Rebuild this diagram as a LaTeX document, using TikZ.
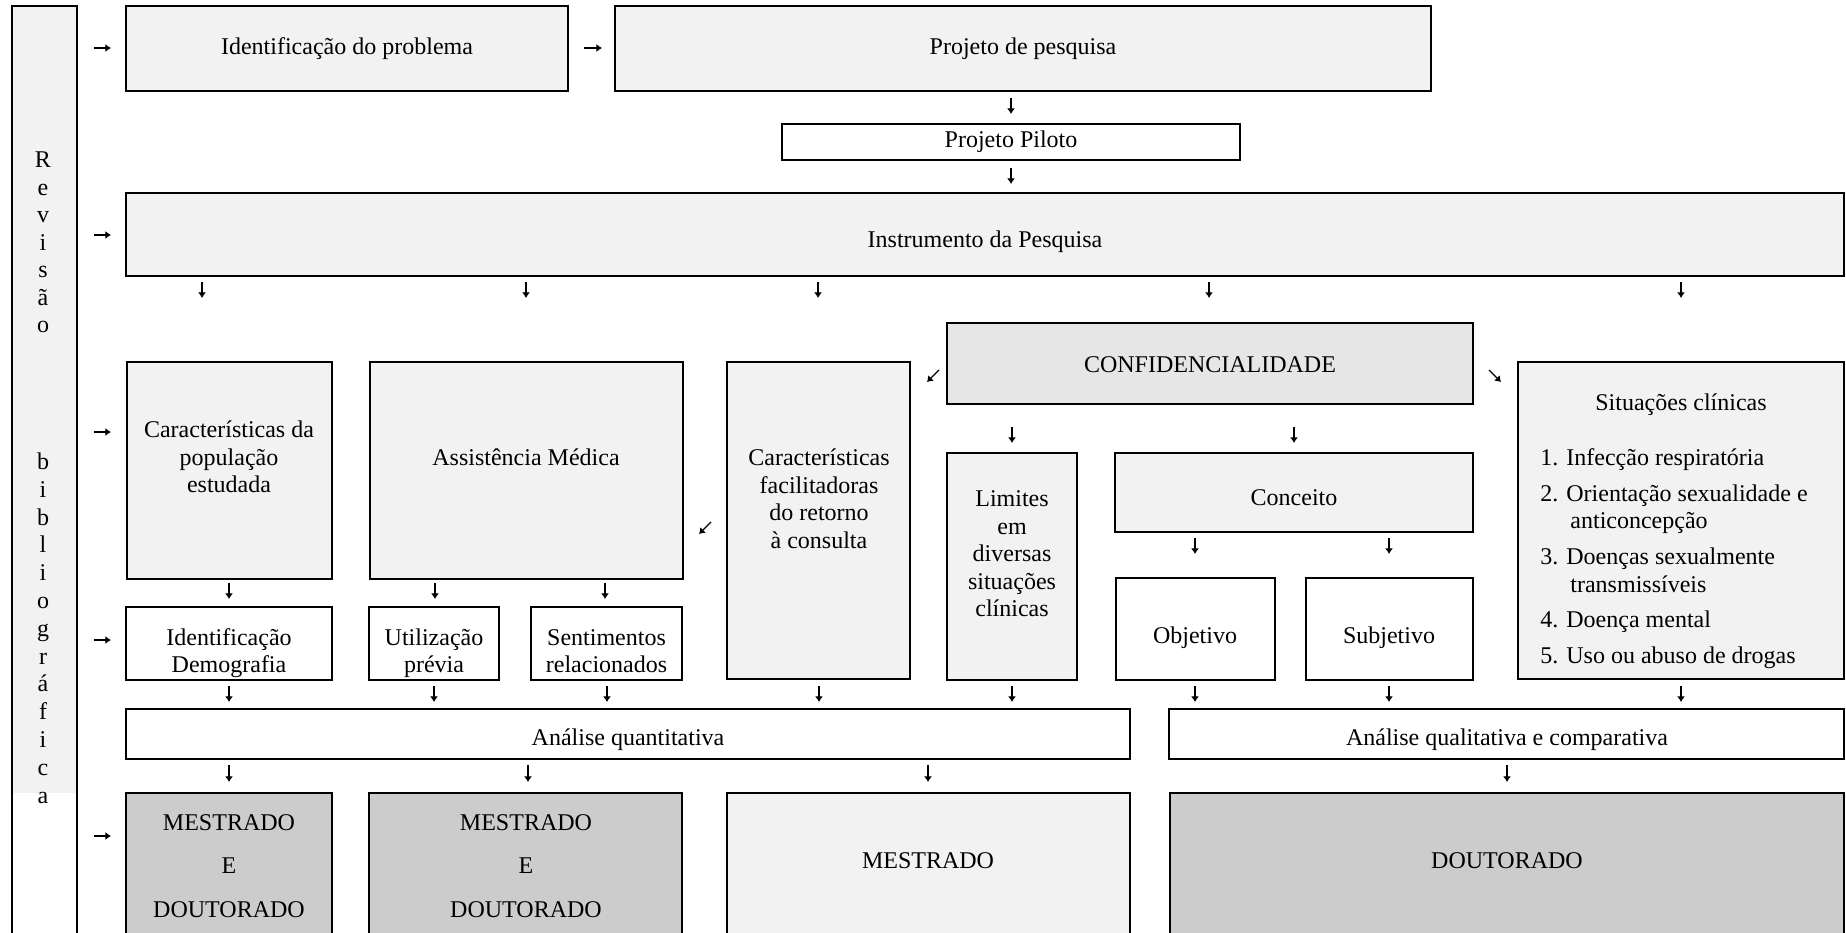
\documentclass[tikz,border=0pt]{standalone}
\usepackage{fontspec}
\setmainfont{Liberation Serif}
\usetikzlibrary{arrows.meta,fit}
\definecolor{lightg}{HTML}{F2F2F2}
\definecolor{midg}{HTML}{E6E6E6}
\definecolor{darkg}{HTML}{CCCCCC}
\begin{document}
\begin{tikzpicture}[x=0.5pt,y=-0.5pt,
  box/.style={draw=black,line width=1pt,inner sep=0pt,fill=lightg},
  wbox/.style={box,fill=white},
  cbox/.style={box,fill=midg},
  dbox/.style={box,fill=darkg},
  txt/.style={inner sep=0pt,font=\fontsize{12}{13.75}\selectfont,align=center},
  glyph/.style={line width=0.65pt,-{Latex[length=2.8pt,width=4pt]}}]
\useasboundingbox (0,0) rectangle (1846,932);
\clip (0,0) rectangle (1846,932);

% Revisao bibliografica column
\node[fill=lightg,inner sep=0pt,fit={(11.5,6) (77,793)}] (rev) {};
\draw[line width=1pt] (11.5,945) -- (11.5,6) -- (77,6) -- (77,945);
\foreach \ch [count=\i from 0] in {R,e,v,i,s,ã,o}
  \node[txt] (rv\i) at (43,{162+27.5*\i}) {\strut\ch};
\foreach \ch [count=\i from 0] in {b,i,b,l,i,o,g,r,á,f,i,c,a}
  \node[txt] (bb\i) at (43,{464+27.8*\i}) {\strut\ch};

% boxes
\node[box,fit={(126,6) (568,91)}] (idp) {};
\node[box,fit={(615,6) (1431,91)}] (pp) {};
\node[wbox,fit={(782,124) (1240,160)}] (pil) {};
\node[box,fit={(126,193) (1844,276)}] (inst) {};
\node[cbox,fit={(947,323) (1473,404)}] (conf) {};
\node[box,fit={(127,362) (332,579)}] (pop) {};
\node[box,fit={(370,362) (683,579)}] (asm) {};
\node[box,fit={(727,362) (910,679)}] (fac) {};
\node[box,fit={(947,453) (1077,680)}] (lim) {};
\node[box,fit={(1115,453) (1473,532)}] (conc) {};
\node[wbox,fit={(1116,578) (1275,680)}] (obj) {};
\node[wbox,fit={(1306,578) (1473,680)}] (subj) {};
\node[box,fit={(1518,362) (1844,679)}] (sit) {};
\node[wbox,fit={(126,607) (332,680)}] (idd) {};
\node[wbox,fit={(369,607) (499,680)}] (uti) {};
\node[wbox,fit={(531,607) (682,680)}] (sen) {};
\node[wbox,fit={(126,709) (1130,759)}] (aq) {};
\node[wbox,fit={(1169,709) (1844,759)}] (aql) {};
\node[dbox,fit={(126,793) (332,945)}] (md1) {};
\node[dbox,fit={(369,793) (682,945)}] (md2) {};
\node[box,fit={(727,793) (1130,945)}] (mes) {};
\node[dbox,fit={(1170,793) (1844,945)}] (dou) {};

% texts
\node[txt] (tidp) at (347,49) {\strut Identificação do problema};
\node[txt] (tpp) at (1023,49) {\strut Projeto de pesquisa};
\node[txt] (tpil) at (1011,142) {\strut Projeto Piloto};
\node[txt] (tinst) at (985,242) {\strut Instrumento da Pesquisa};
\node[txt] (tconf) at (1210,367) {\strut CONFIDENCIALIDADE};
\node[txt] (tpop) at (229,459.5) {\strut Características da\\\strut população\\\strut estudada};
\node[txt] (tasm) at (526,460) {\strut Assistência Médica};
\node[txt] (tfac) at (819,501.5) {\strut Características\\\strut facilitadoras\\\strut do retorno\\\strut à consulta};
\node[txt] (tlim) at (1012,556) {\strut Limites\\\strut em\\\strut diversas\\\strut situações\\\strut clínicas};
\node[txt] (tconc) at (1294,500) {\strut Conceito};
\node[txt] (tobj) at (1195,638) {\strut Objetivo};
\node[txt] (tsubj) at (1389,638) {\strut Subjetivo};
\node[txt] (tsit) at (1681,405) {\strut Situações clínicas};
\node[txt,align=left,anchor=west] (tlist) at (1540,559) {\strut 1. Infecção respiratória\\[4.1pt]
\strut 2. Orientação sexualidade e\\
\strut\hspace*{15pt}anticoncepção\\[4.1pt]
\strut 3. Doenças sexualmente\\
\strut\hspace*{15pt}transmissíveis\\[4.1pt]
\strut 4. Doença mental\\[4.1pt]
\strut 5. Uso ou abuso de drogas};
\node[txt] (tidd) at (229,653.5) {\strut Identificação\\\strut Demografia};
\node[txt] (tuti) at (434,653.5) {\strut Utilização\\\strut prévia};
\node[txt] (tsen) at (606.5,653.5) {\strut Sentimentos\\\strut relacionados};
\node[txt] (taq) at (628,740) {\strut Análise quantitativa};
\node[txt] (taql) at (1507,740) {\strut Análise qualitativa e comparativa};
\node[txt] (tmd1) at (229,868) {\strut MESTRADO\\[8pt]\strut E\\[8pt]\strut DOUTORADO};
\node[txt] (tmd2) at (526,868) {\strut MESTRADO\\[8pt]\strut E\\[8pt]\strut DOUTORADO};
\node[txt] (tmes) at (928,863) {\strut MESTRADO};
\node[txt] (tdou) at (1507,863) {\strut DOUTORADO};

% arrow glyphs
\draw[glyph] (94,48) -- (111,48);
\draw[glyph] (584,48) -- (602,48);
\draw[glyph] (1011,98) -- (1011,114);
\draw[glyph] (1011,168) -- (1011,184);
\draw[glyph] (94,235) -- (111,235);
\foreach \x in {202,526,818,1209,1681} \draw[glyph] (\x,282) -- (\x,298);
\draw[glyph] (939,370) -- (927,382);
\draw[glyph] (1489,370) -- (1501,382);
\draw[glyph] (94,432) -- (111,432);
\foreach \x in {1012,1294} \draw[glyph] (\x,427) -- (\x,443);
\draw[glyph] (711,522) -- (699,534);
\foreach \x in {1195,1389} \draw[glyph] (\x,538) -- (\x,554);
\foreach \x in {229,435,605} \draw[glyph] (\x,583) -- (\x,599);
\draw[glyph] (94,640) -- (111,640);
\foreach \x in {229,434,607,819,1012,1195,1389,1681} \draw[glyph] (\x,686) -- (\x,702);
\foreach \x in {229,528,928,1507} \draw[glyph] (\x,765) -- (\x,782);
\draw[glyph] (94,836) -- (111,836);
\end{tikzpicture}
\end{document}
